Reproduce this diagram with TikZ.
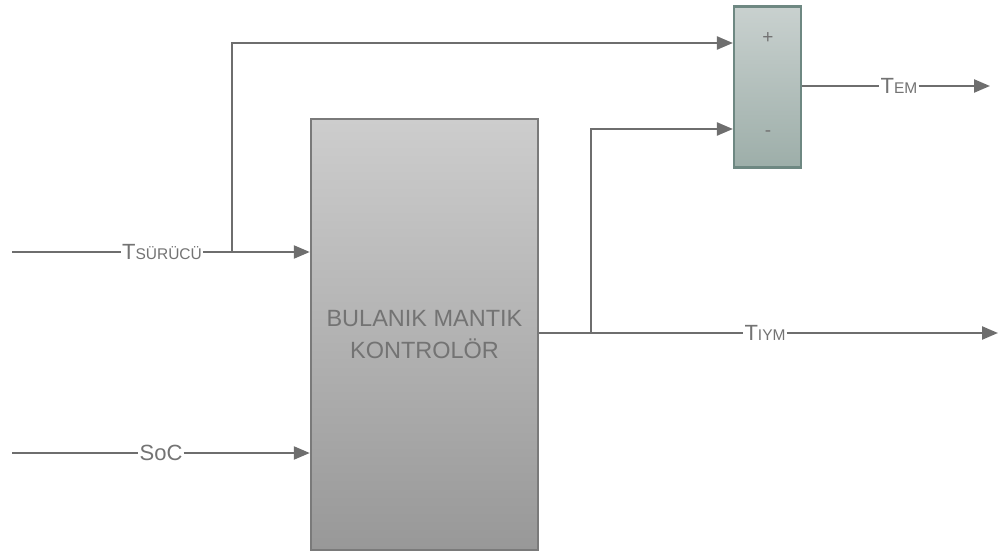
\documentclass[tikz,border=0pt]{standalone}
\usepackage{fontspec}
\setmainfont{Liberation Sans}
\usetikzlibrary{arrows.meta}
\definecolor{linec}{HTML}{6E6E6E}
\definecolor{txtc}{HTML}{737373}
\definecolor{mtop}{HTML}{CDCDCD}
\definecolor{mbot}{HTML}{989898}
\definecolor{mbrd}{HTML}{7A7A7A}
\definecolor{stop}{HTML}{C9D1CF}
\definecolor{sbot}{HTML}{9DAEA9}
\definecolor{sbrd}{HTML}{6E8882}
\tikzset{
  wire/.style={draw=linec, line width=2.3pt},
  arr/.style={wire, -{Triangle[length=16pt,width=13pt]}},
  lbl/.style={fill=white, text=txtc, inner sep=1pt, font=\fontsize{22}{24}\selectfont},
  mainbox/.style={draw=mbrd, line width=2.4pt, top color=mtop, bottom color=mbot,
    minimum width=227pt, minimum height=431pt, inner sep=0pt, align=center,
    text=txtc, font=\fontsize{23.5}{32}\selectfont},
  sumbox/.style={draw=sbrd, line width=2.2pt, top color=stop, bottom color=sbot,
    minimum width=67pt, minimum height=161pt, inner sep=0pt},
  sign/.style={text=txtc, font=\fontsize{19}{20}\selectfont, inner sep=0pt}
}
\newcommand{\smc}[1]{{\fontsize{15.5}{17}\selectfont #1}}
\begin{document}
\begin{tikzpicture}[x=1pt,y=-1pt]
\useasboundingbox (0,0) rectangle (1001,556);
\node[mainbox] (mbox) at (424.5,334.5) {BULANIK MANTIK\\KONTROLÖR};
\node[sumbox] (sum) at (767.5,87) {};
\node[sign] (plus) at (768,38) {+};
\node[sign] (minus) at (768,134) {-};
\coordinate (in1) at (12,252);
\coordinate (in2) at (12,453);
\coordinate (br1) at (232,252);
\coordinate (br2) at (591,333);
\coordinate (s1) at ([yshift=44pt]sum.west);
\coordinate (s2) at ([yshift=-42pt]sum.west);
\coordinate (o1) at (990,86);
\coordinate (o2) at (998,333);
\node[lbl] (lt) at (162,252) {T\smc{SÜRÜCÜ}};
\node[lbl] (ls) at (161,453) {SoC};
\node[lbl] (le) at (899,86) {T\smc{EM}};
\node[lbl] (li) at (765,333) {T\smc{IYM}};
\draw[wire] (in1) -- (lt);
\draw[arr] (lt) -- (in1 -| mbox.west);
\draw[arr] (br1) |- (s1);
\draw[wire] (in2) -- (ls);
\draw[arr] (ls) -- (in2 -| mbox.west);
\draw[wire] (br2 -| mbox.east) -- (li);
\draw[arr] (li) -- (o2);
\draw[arr] (br2) |- (s2);
\draw[wire] (o1 -| sum.east) -- (le);
\draw[arr] (le) -- (o1);
\end{tikzpicture}
\end{document}
